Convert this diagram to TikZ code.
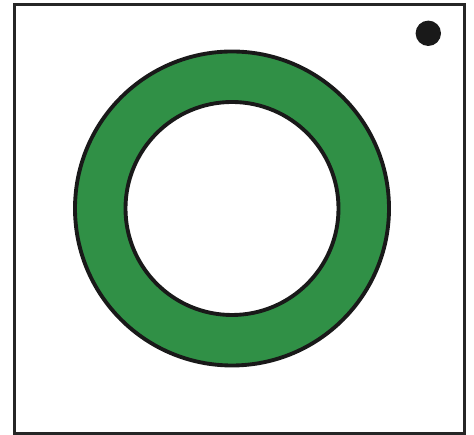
\documentclass[tikz,border=0pt]{standalone}
\definecolor{vertanneau}{RGB}{48,144,70}
\begin{document}
\begin{tikzpicture}[x=0.02cm,y=0.02cm]
\def\re{157}%rayon exterieur
\def\ri{106.5}%rayon interieur
\newcommand{\CE}{(232,226.5) circle ({\re})}%cercle exterieur
\newcommand{\CI}{(232,226.5) circle ({\ri})}%cercle interieur
\useasboundingbox (0,0) rectangle (474,435);
\draw[line width=1.7pt,color=black!85] (14.5,1) rectangle (464.5,430.5);%cadre
\fill[color=vertanneau,even odd rule]\CE \CI;%anneau vert
\draw[line width=2.2pt,color=black!90]\CE;
\draw[line width=2.2pt,color=black!90]\CI;
\fill[color=black!90] (428.3,401.7) circle (12.7);%point noir
\end{tikzpicture}
\end{document}
